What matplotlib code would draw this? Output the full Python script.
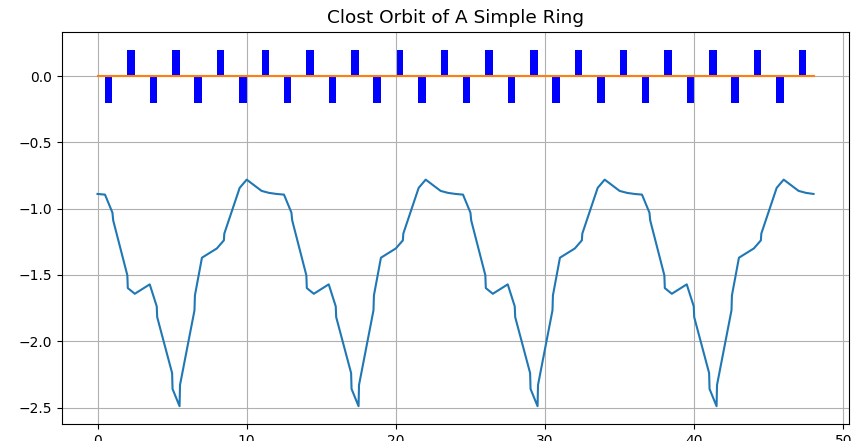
import numpy as np
import matplotlib
matplotlib.use("Agg")
import matplotlib.pyplot as plt

# closed orbit samples along the ring (s, x)
s = [0.0, 0.5, 1.0, 1.05, 2.0, 2.03, 2.5, 3.5, 3.97, 4.0, 5.0, 5.03, 5.5, 5.53, 6.5, 6.53, 7.0, 8.0, 8.47, 8.5, 9.5, 9.53, 10.0, 11.0, 11.5,
     12.0, 12.5, 13.0, 13.05, 14.0, 14.03, 14.5, 15.5, 15.97, 16.0, 17.0, 17.03, 17.5, 17.53, 18.5, 18.53, 19.0, 20.0, 20.47, 20.5, 21.5, 21.53, 22.0, 23.0, 23.5,
     24.0, 24.5, 25.0, 25.05, 26.0, 26.03, 26.5, 27.5, 27.97, 28.0, 29.0, 29.03, 29.5, 29.53, 30.5, 30.53, 31.0, 32.0, 32.47, 32.5, 33.5, 33.53, 34.0, 35.0, 35.5,
     36.0, 36.5, 37.0, 37.05, 38.0, 38.03, 38.5, 39.5, 39.97, 40.0, 41.0, 41.03, 41.5, 41.53, 42.5, 42.53, 43.0, 44.0, 44.47, 44.5, 45.5, 45.53, 46.0, 47.0, 47.5,
     48.0]
orbit = [-0.889, -0.894, -1.03, -1.088, -1.503, -1.599, -1.642, -1.571, -1.737, -1.818, -2.24, -2.36, -2.49, -2.33, -1.767, -1.654, -1.37, -1.30, -1.239, -1.188, -0.853, -0.843, -0.781, -0.866, -0.881,
         -0.889, -0.894, -1.03, -1.088, -1.503, -1.599, -1.642, -1.571, -1.737, -1.818, -2.24, -2.36, -2.49, -2.33, -1.767, -1.654, -1.37, -1.30, -1.239, -1.188, -0.853, -0.843, -0.781, -0.866, -0.881,
         -0.889, -0.894, -1.03, -1.088, -1.503, -1.599, -1.642, -1.571, -1.737, -1.818, -2.24, -2.36, -2.49, -2.33, -1.767, -1.654, -1.37, -1.30, -1.239, -1.188, -0.853, -0.843, -0.781, -0.866, -0.881,
         -0.889, -0.894, -1.03, -1.088, -1.503, -1.599, -1.642, -1.571, -1.737, -1.818, -2.24, -2.36, -2.49, -2.33, -1.767, -1.654, -1.37, -1.30, -1.239, -1.188, -0.853, -0.843, -0.781, -0.866, -0.881,
         -0.889]

# reference line
ref_s = [0.0, 48.0]
ref_x = [0.0, 0.0]

# quadrupoles: start position and (signed) strength
quad_start = [0.5, 2.0, 3.5, 5.0, 6.5, 8.0, 9.5, 11.0, 12.5, 14.0, 15.5, 17.0, 18.5, 20.0, 21.5, 23.0,
              24.5, 26.0, 27.5, 29.0, 30.5, 32.0, 33.5, 35.0, 36.5, 38.0, 39.5, 41.0, 42.5, 44.0, 45.5, 47.0]
quad_k = [-0.2, 0.2] * 16
quad_len = 0.5

fig = plt.figure(figsize=(8.62, 4.41), dpi=100)
ax = fig.add_axes([0.0716, 0.0385, 0.9137, 0.8895])

ax.plot(s, orbit)
ax.plot(ref_s, ref_x)
ax.bar(quad_start, quad_k, width=quad_len, align='edge', color='blue')

ax.set_title('Clost Orbit of A Simple Ring', fontsize=13.3)
ax.grid(True)

fig.savefig('out.png', dpi=100)
